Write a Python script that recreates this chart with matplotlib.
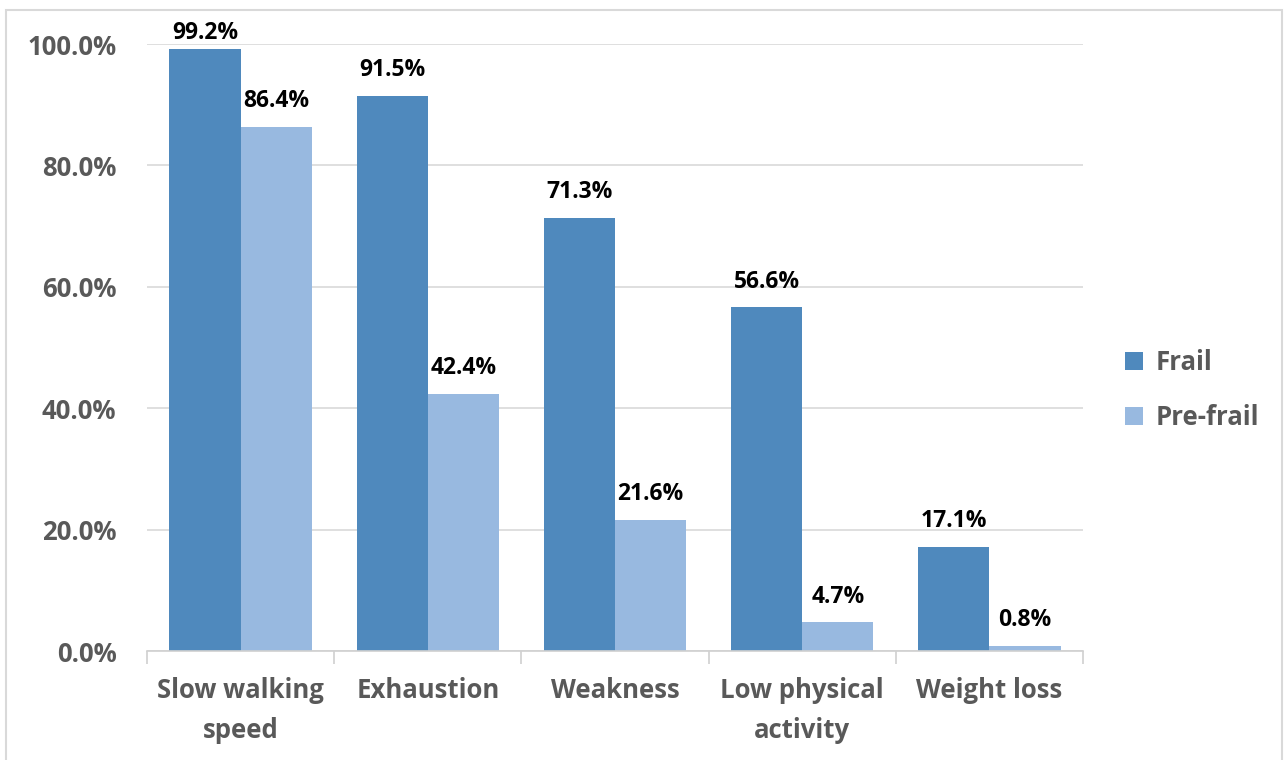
import matplotlib
matplotlib.use("Agg")
import matplotlib.pyplot as plt
from matplotlib.patches import Rectangle
from matplotlib.ticker import PercentFormatter
import numpy as np

# ---------------- data ----------------
categories = ["Slow walking\nspeed", "Exhaustion", "Weakness",
              "Low physical\nactivity", "Weight loss"]
frail = [99.2, 91.5, 71.3, 56.6, 17.1]
pre_frail = [86.4, 42.4, 21.6, 4.7, 0.8]
series_names = ["Frail", "Pre-frail"]

plt.rcParams['font.family'] = ['Open Sans', 'DejaVu Sans']
plt.rcParams['font.weight'] = 'bold'

c_frail = '#4f89bd'
c_pre = '#98b9e0'
grey_txt = '#595959'

fig = plt.figure(figsize=(12.87, 7.6), dpi=100)
ax = fig.add_axes([0.1142, 0.1434, 0.7273, 0.7987])

x = np.arange(len(categories))
w = 0.38
b1 = ax.bar(x - w / 2, frail, w, color=c_frail, label=series_names[0])
b2 = ax.bar(x + w / 2, pre_frail, w, color=c_pre, label=series_names[1])

for bars, vals in ((b1, frail), (b2, pre_frail)):
    for r, v in zip(bars, vals):
        # labels near the top get squeezed down so they stay in the frame
        off = 10 if v < 97 else 3
        ax.annotate(f"{v:.1f}%", (r.get_x() + r.get_width() / 2, v),
                    xytext=(0, off), textcoords='offset points',
                    ha='center', va='bottom', fontsize=16.5,
                    fontweight='bold', color='black')

ax.set_xlim(-0.5, len(categories) - 0.5)
ax.set_ylim(0, 100)
ax.set_yticks(np.arange(0, 101, 20))
ax.yaxis.set_major_formatter(PercentFormatter(decimals=1))
ax.grid(axis='y', color='#d9d9d9', lw=1.2)
ax.set_axisbelow(True)

for s in ('top', 'right', 'left'):
    ax.spines[s].set_visible(False)
ax.spines['bottom'].set_color('#d0d0d0')
ax.spines['bottom'].set_linewidth(1.2)

ax.set_xticks(x)
ax.set_xticklabels(categories, fontsize=18.5, fontweight='bold',
                   color=grey_txt, linespacing=1.6)
ax.set_xticks(np.arange(-0.5, len(categories)), minor=True)
ax.tick_params(axis='x', which='major', length=0, pad=19)
ax.tick_params(axis='x', which='minor', length=9, width=1.2,
               color='#d0d0d0', direction='out')
ax.tick_params(axis='y', length=0, pad=22, labelsize=18.5,
               labelcolor=grey_txt)
for lab in ax.get_yticklabels():
    lab.set_fontweight('bold')

leg = ax.legend(loc='center left', bbox_to_anchor=(1.02, 0.43),
                frameon=False, fontsize=18.5, handlelength=0.7,
                handleheight=0.7, handletextpad=0.5, labelspacing=1.1)
for t in leg.get_texts():
    t.set_color(grey_txt)
    t.set_fontweight('bold')

# light frame around the chart area
fig.patches.append(Rectangle((6 / 1287, -0.01), 1276 / 1287, 1 - 10 / 760 + 0.01,
                             transform=fig.transFigure, fill=False,
                             edgecolor='#d9d9d9', lw=1.5))

fig.savefig('out.png', dpi=100, facecolor='white')
